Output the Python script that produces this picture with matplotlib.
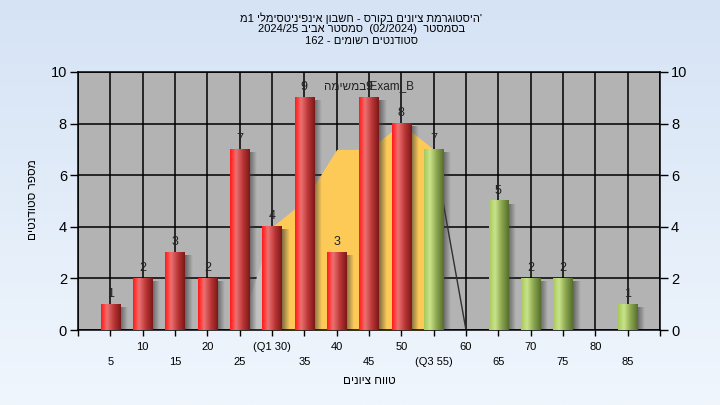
import re
import numpy as np
import matplotlib
matplotlib.use("Agg")
import matplotlib.pyplot as plt
from matplotlib.colors import LinearSegmentedColormap

plt.rcParams['font.family'] = ['Liberation Sans', 'DejaVu Sans']

# grade ranges and student counts
grades = [5, 10, 15, 20, 25, 30, 35, 40, 45, 50, 55, 60, 65, 70, 75, 80, 85]
counts = [1, 2, 3, 2, 7, 4, 9, 3, 9, 8, 7, 0, 5, 2, 2, 0, 1]
quartile_names = {30: "Q1", 55: "Q3"}
pass_from = 55

# "Exam_B" area series (25..60)
area_grades = [25, 30, 35, 40, 45, 50, 55, 60]
area_vals = [0, 4, 5, 7, 7, 8, 7, 0]

title_lines = ["'היסטוגרמת ציונים בקורס - חשבון אינפיניטסימלי 1מ",
               "בסמסטר  (02/2024)  סמסטר אביב 2024/25",
               "סטודנטים רשומים - 162"]
xlabel = "טווח ציונים"
ylabel = "מספר סטודנטים"
area_label = "Exam_B במשימה"


def vis(s):
    # crude right-to-left display order for matplotlib
    r = s[::-1]
    return re.sub(r"[\x21-\x7e]+", lambda m: m.group(0)[::-1], r)


def main():
    fig = plt.figure(figsize=(7.2, 4.05), dpi=100)

    # background gradient
    bg = fig.add_axes([0, 0, 1, 1], zorder=-10)
    grad = np.linspace(0, 1, 256).reshape(-1, 1)
    bg_cmap = LinearSegmentedColormap.from_list("bg", ["#d5e3f5", "#f0f6fd"])
    bg.imshow(grad, aspect="auto", cmap=bg_cmap, extent=[0, 1, 0, 1])
    bg.axis("off")

    ax = fig.add_axes([78 / 720, 1 - 330 / 405, 582 / 720, 258 / 405])
    ax.set_facecolor("#b3b3b3")

    n = len(grades)
    xs = np.arange(1, n + 1)
    idx = {g: i + 1 for i, g in enumerate(grades)}

    # area series
    ax_x = [idx.get(g, 0) for g in area_grades]
    ax.fill_between(ax_x[:2], 0, area_vals[:2], color="#c2c2c2", lw=0, zorder=1)
    ax.fill_between(ax_x[1:-1], 0, area_vals[1:-1], color="#fdca58", lw=0, zorder=1)
    ax.plot(ax_x[-2:], area_vals[-2:], color="#303030", lw=1, zorder=1.5)

    red = LinearSegmentedColormap.from_list("red", [(0, "#ff1a1a"), (0.12, "#ff3a3a"), (0.3, "#ec7272"),
                                                   (0.65, "#bb3636"), (1, "#7c1818")])
    green = LinearSegmentedColormap.from_list("green", [(0, "#a6c95c"), (0.3, "#c9e38a"),
                                                       (0.65, "#8aa54e"), (1, "#566e2c")])
    hgrad = np.linspace(0, 1, 64).reshape(1, -1)
    shade = np.zeros((1, 32, 4))
    shade[..., 0:3] = 0.22
    shade[..., 3] = np.linspace(0.65, 0.0, 32)

    w = 0.6
    for x, g, c in zip(xs, grades, counts):
        if c == 0:
            continue
        cm = green if g >= pass_from else red
        # shadow on the right
        ax.imshow(shade, aspect="auto", interpolation="bilinear",
                  extent=[x + w / 2, x + w / 2 + 0.22, 0, c - 0.12], zorder=2)
        ax.imshow(hgrad, aspect="auto", cmap=cm, interpolation="bilinear",
                  extent=[x - w / 2, x + w / 2, 0, c], zorder=3)
        ax.text(x, c + 0.17, str(c), ha="center", va="bottom", fontsize=9,
                color="#222222", zorder=5)

    ax.text(idx[45], 9.47, vis(area_label), ha="center", va="center", fontsize=8.5,
            color="#222222", zorder=5)

    ax.set_xlim(0, n + 1)
    ax.set_ylim(0, 10)

    labels = [""]
    for i, g in enumerate(grades):
        s = str(g)
        if g in quartile_names:
            s = "(%s %d)" % (quartile_names[g], g)
        if i % 2 == 0:
            s = "\n" + s
        labels.append(s)
    labels.append("")
    ax.set_xticks(range(n + 2))
    ax.set_xticklabels(labels, fontsize=8)
    for lbl in ax.get_xticklabels():
        lbl.set_linespacing(1.6)
    ax.set_yticks(range(0, 11, 2))
    ax.tick_params(axis="y", labelsize=10.5, length=6, width=1, pad=2,
                   right=True, labelright=True)
    ax.tick_params(axis="x", length=4, width=1, pad=5)

    ax.grid(True, color="black", lw=1.1)
    ax.set_axisbelow(True)
    for sp in ax.spines.values():
        sp.set_color("black")
        sp.set_linewidth(1.1)

    for i, line in enumerate(title_lines):
        fig.text(0.502, 1 - (18 + 11.5 * i) / 405, vis(line), ha="center", va="center",
                 fontsize=8)
    fig.text(369 / 720, 1 - 381 / 405, vis(xlabel), ha="center", va="center", fontsize=8.5)
    fig.text(33 / 720, 1 - 200 / 405, vis(ylabel), ha="center", va="center",
             rotation=90, fontsize=8.5)

    fig.savefig("out.png", dpi=100)


if __name__ == "__main__":
    main()
